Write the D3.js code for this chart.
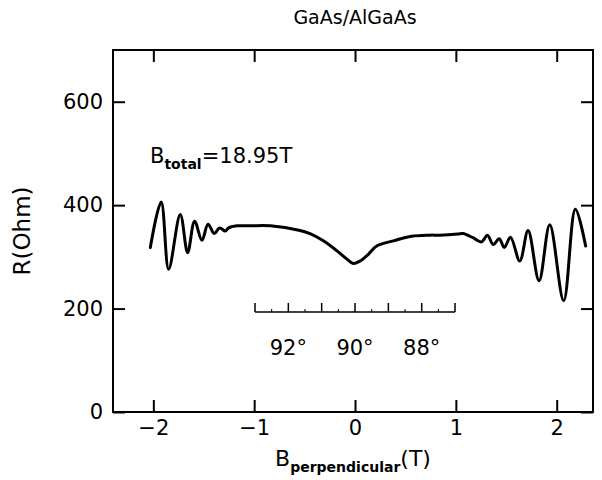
<!DOCTYPE html>
<html>
<head>
<meta charset="utf-8">
<script src="https://cdn.jsdelivr.net/npm/d3@7"></script>
<style>
  html, body { margin: 0; padding: 0; background: #fff; }
  svg { display: block; }
  text { font-family: "DejaVu Sans", "Liberation Sans", Arial, sans-serif; fill: #000; }
</style>
</head>
<body>
<svg id="chart" width="602" height="480"></svg>
<script>
// ---- data ----
const bPerp = [-2.03, -1.923, -1.848, -1.733, -1.66, -1.591, -1.518, -1.458, -1.396, -1.343, -1.287, -1.254, -1.171, -1.04, -0.84, -0.545, -0.446, -0.314, -0.182, -0.083, -0.017, 0.05, 0.132, 0.215, 0.38, 0.561, 0.743, 0.842, 1.02, 1.07, 1.17, 1.254, 1.313, 1.37, 1.43, 1.48, 1.542, 1.634, 1.716, 1.825, 1.931, 2.069, 2.185, 2.287];
const resistance = [318, 406, 276, 382, 308, 369, 332, 363, 345, 356, 350, 356, 360, 360, 360, 351, 345, 331, 312, 296, 287, 292, 305, 321, 331, 340, 342, 342, 344, 345, 337, 329, 342, 324, 335, 318, 338, 292, 351, 254, 362, 215, 392, 321];
const xTicks = [-2, -1, 0, 1, 2];
const yTicks = [0, 200, 400, 600];
const bTotal = 18.95;
const angleTicks = [93, 92, 91, 90, 89, 88, 87];
const angleMinor = [92.5, 91.5, 90.5, 89.5, 88.5, 87.5];
const angleLabels = [92, 90, 88];
const titleText = "GaAs/AlGaAs";

// ---- layout ----
const svg = d3.select("#chart");
const L = 113, R = 593, T = 50, B = 412;
const x = d3.scaleLinear().domain([-2.4, 2.36]).range([L, R]);
const y = d3.scaleLinear().domain([0, 700]).range([B, T]);
const tickLen = 12;
const fs = 21;
const ff = "DejaVu Sans, Liberation Sans, Arial, sans-serif";

// title
svg.append("text").attr("x", 355).attr("y", 24).attr("text-anchor", "middle")
  .attr("font-size", 19).text(titleText);

// axes
const fmt = d => d < 0 ? "\u2212" + Math.abs(d) : String(d);
const gx = svg.append("g").attr("transform", `translate(0,${B})`)
  .call(d3.axisBottom(x).tickValues(xTicks).tickSizeInner(-tickLen).tickSizeOuter(0).tickPadding(8).tickFormat(fmt));
const gxt = svg.append("g").attr("transform", `translate(0,${T})`)
  .call(d3.axisTop(x).tickValues(xTicks).tickSizeInner(-tickLen).tickSizeOuter(0).tickFormat(""));
const gy = svg.append("g").attr("transform", `translate(${L},0)`)
  .call(d3.axisLeft(y).tickValues(yTicks).tickSizeInner(-tickLen).tickSizeOuter(0).tickPadding(10));
const gyr = svg.append("g").attr("transform", `translate(${R},0)`)
  .call(d3.axisRight(y).tickValues(yTicks).tickSizeInner(-tickLen).tickSizeOuter(0).tickFormat(""));
[gx, gxt, gy, gyr].forEach(g => {
  g.select(".domain").remove();
  g.selectAll(".tick line").attr("stroke", "#000").attr("stroke-width", 2);
  g.selectAll(".tick text").attr("font-size", fs).attr("font-family", ff).attr("fill", "#000");
});
gx.selectAll(".tick text").attr("dy", "0.71em");

// frame
svg.append("rect").attr("x", L).attr("y", T).attr("width", R - L).attr("height", B - T)
  .attr("fill", "none").attr("stroke", "#000").attr("stroke-width", 2);

// axis titles
const xl = svg.append("text").attr("x", 353).attr("y", 466).attr("text-anchor", "middle").attr("font-size", 22);
xl.append("tspan").text("B");
xl.append("tspan").attr("font-size", 14).attr("dy", 6).attr("font-weight", "bold").text("perpendicular");
xl.append("tspan").attr("dy", -6).text("(T)");

svg.append("text").attr("transform", "translate(30,231) rotate(-90)").attr("text-anchor", "middle")
  .attr("font-size", 23).text("R(Ohm)");

// B_total annotation
const bt = svg.append("text").attr("x", 150).attr("y", 163).attr("font-size", fs);
bt.append("tspan").text("B");
bt.append("tspan").attr("font-size", 14).attr("font-weight", "bold").attr("dy", 6).text("total");
bt.append("tspan").attr("dy", -6).text("=" + bTotal + "T");

// data line
const line = d3.line().x((d, i) => x(bPerp[i])).y(d => y(d)).curve(d3.curveCatmullRom.alpha(0.5));
svg.append("path").datum(resistance).attr("d", line)
  .attr("fill", "none").attr("stroke", "#000").attr("stroke-width", 3).attr("stroke-linejoin", "round").attr("stroke-linecap", "round");

// angle scale inset
const toB = a => bTotal * Math.cos(a * Math.PI / 180);
const ys = 312;
const ins = svg.append("g");
ins.append("line").attr("x1", x(toB(93))).attr("x2", x(toB(87))).attr("y1", ys).attr("y2", ys)
  .attr("stroke", "#000").attr("stroke-width", 1.5);
ins.selectAll("line.maj").data(angleTicks).join("line").attr("class", "maj")
  .attr("x1", d => x(toB(d))).attr("x2", d => x(toB(d))).attr("y1", ys).attr("y2", ys - 9)
  .attr("stroke", "#000").attr("stroke-width", 1.5);
ins.selectAll("line.min").data(angleMinor).join("line").attr("class", "min")
  .attr("x1", d => x(toB(d))).attr("x2", d => x(toB(d))).attr("y1", ys).attr("y2", ys - 3)
  .attr("stroke", "#000").attr("stroke-width", 1);
ins.selectAll("text").data(angleLabels).join("text")
  .attr("x", d => x(toB(d))).attr("y", 355).attr("text-anchor", "middle").attr("font-size", fs)
  .text(d => d + "\u00B0");
</script>
</body>
</html>
